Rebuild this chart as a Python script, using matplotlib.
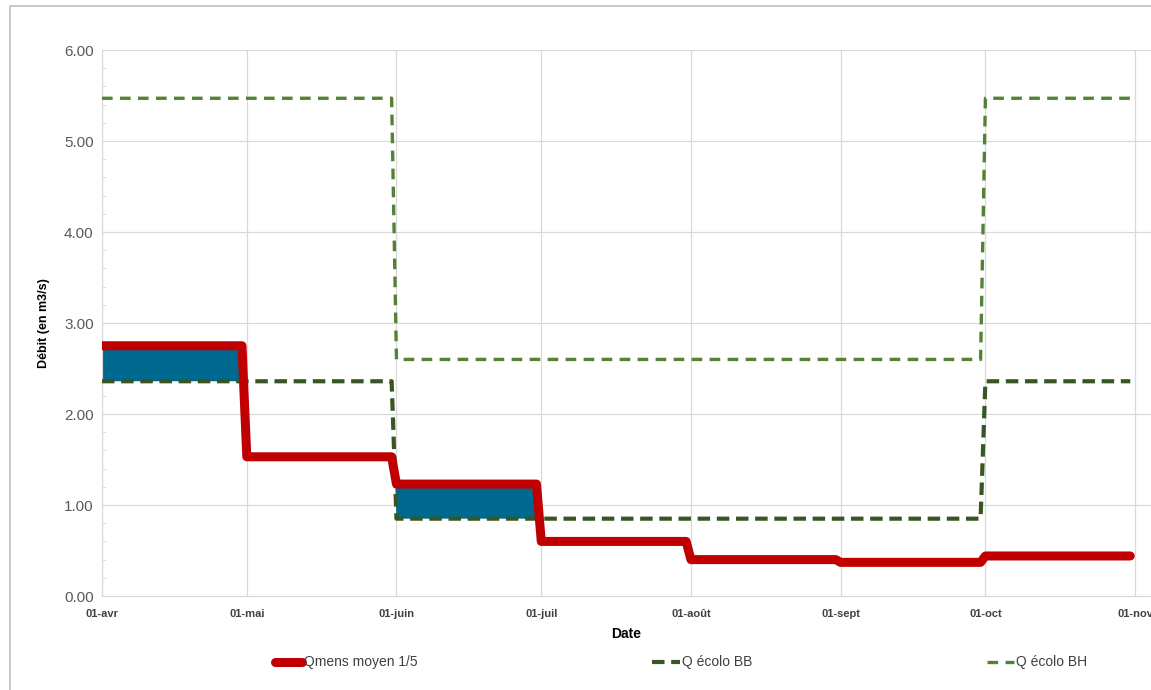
import datetime as dt
import matplotlib
matplotlib.use("Agg")
import matplotlib.pyplot as plt
import matplotlib.dates as mdates
from matplotlib.patches import Rectangle
import numpy as np

plt.rcParams['font.family'] = ['Liberation Sans Narrow', 'Liberation Sans', 'DejaVu Sans']

# monthly values (Apr -> Oct)
month_starts = [dt.date(2019, 4, 1), dt.date(2019, 5, 1), dt.date(2019, 6, 1), dt.date(2019, 7, 1),
                dt.date(2019, 8, 1), dt.date(2019, 9, 1), dt.date(2019, 10, 1)]
month_ends = [dt.date(2019, 4, 30), dt.date(2019, 5, 31), dt.date(2019, 6, 30), dt.date(2019, 7, 31),
              dt.date(2019, 8, 31), dt.date(2019, 9, 30), dt.date(2019, 10, 31)]
qmens = [2.75, 1.53, 1.23, 0.60, 0.40, 0.37, 0.44]
q_bb = [2.36, 2.36, 0.85, 0.85, 0.85, 0.85, 2.36]
q_bh = [5.47, 5.47, 2.60, 2.60, 2.60, 2.60, 5.47]

tick_dates = month_starts + [dt.date(2019, 11, 1)]
tick_labels = ['01-avr', '01-mai', '01-juin', '01-juil', '01-août', '01-sept', '01-oct', '01-nov']


def steps(vals):
    xs, ys = [], []
    for s, e, v in zip(month_starts, month_ends, vals):
        xs += [s, e]
        ys += [v, v]
    return mdates.date2num(xs), ys


x_r, y_r = steps(qmens)
x_bb, y_bb = steps(q_bb)
x_bh, y_bh = steps(q_bh)

fig = plt.figure(figsize=(11.51, 6.90), dpi=100)
ax = fig.add_axes([0.0886, 0.1362, 1 - 0.0886, 0.9275 - 0.1362])

# outer chart border (bottom edge is off the picture)
fig.patches.append(Rectangle((10 / 1151, -0.1), 1.2, 1.1 - 6 / 690, transform=fig.transFigure,
                             fill=False, edgecolor='#BFBFBF', lw=1.2))

# blue area where Qmens above BB
yr = np.array(y_r)
ybb = np.array(y_bb)
ax.fill_between(x_r, ybb, yr, where=yr > ybb, interpolate=True, color='#00698F', lw=0, zorder=2)

ax.plot(x_bh, y_bh, color='#548235', lw=2.4, dashes=(3.2, 2.2), zorder=3, label='Q écolo BH')
ax.plot(x_bb, y_bb, color='#375623', lw=3.0, dashes=(3, 1.6), zorder=3, label='Q écolo BB')
ax.plot(x_r, y_r, color='#C00000', lw=6.5, solid_joinstyle='round', solid_capstyle='round',
        zorder=4, label='Qmens moyen 1/5')

x0 = mdates.date2num(dt.date(2019, 4, 1))
ax.set_xlim(x0, mdates.date2num(dt.date(2019, 11, 1)) + 3.3)
ax.set_ylim(0, 6)
ax.set_xticks(mdates.date2num(tick_dates))
ax.set_xticklabels(tick_labels, fontsize=8, fontweight='bold', color='#404040')
ax.set_yticks(range(7))
ax.set_yticklabels(['%.2f' % v for v in range(7)], fontsize=11, color='#595959')
ax.set_yticks(np.arange(0, 6.01, 0.2), minor=True)
ax.tick_params(axis='both', which='major', length=0, pad=6)
ax.tick_params(axis='y', which='minor', length=3, color='#D9D9D9', direction='in')
ax.tick_params(axis='x', pad=9)
ax.grid(True, color='#D9D9D9', lw=0.9)
ax.set_axisbelow(True)
for s in ['top', 'right']:
    ax.spines[s].set_visible(False)
for s in ['left', 'bottom']:
    ax.spines[s].set_color('#D9D9D9')

ax.set_xlabel('Date', fontsize=10, fontweight='bold', labelpad=6)
ax.set_ylabel('Débit (en m3/s)', fontsize=9, fontweight='bold', labelpad=10)

handles, labels = ax.get_legend_handles_labels()
order = [2, 1, 0]
fig.legend([handles[i] for i in order], [labels[i] for i in order], ncol=3, loc='center',
           bbox_to_anchor=(262 / 1151, 0.02, (1100 - 262) / 1151, 0.04), mode='expand',
           frameon=False, fontsize=10, handlelength=2.0, handletextpad=0.15, labelcolor='#404040')

fig.savefig('out.png', dpi=100)
